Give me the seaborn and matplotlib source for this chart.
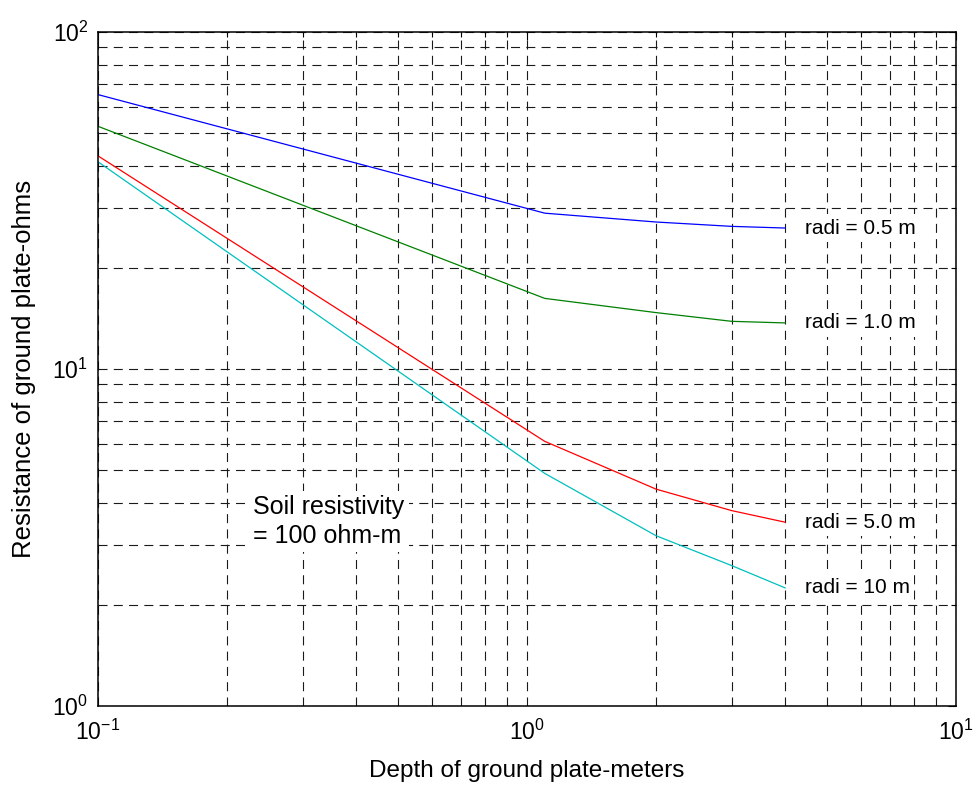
import numpy as np
import pandas as pd
import matplotlib
matplotlib.use("Agg")
import matplotlib.pyplot as plt
import seaborn as sns
from matplotlib.ticker import LogLocator, NullFormatter, LogFormatterMathtext

# Plate depth (m) and ground resistance (ohm) for each plate radius
depth = [0.1, 1.1, 2.0, 3.0, 4.0]
res_r05 = [65.2, 29.0, 27.3, 26.5, 26.2]
res_r10 = [52.5, 16.2, 14.7, 13.85, 13.7]
res_r50 = [42.9, 6.10, 4.40, 3.80, 3.51]
res_r100 = [41.2, 4.90, 3.20, 2.61, 2.24]
radius_labels = ["radi = 0.5 m", "radi = 1.0 m", "radi = 5.0 m", "radi = 10 m"]
line_colors = ["#0000ff", "#008000", "#ff0000", "#00bfbf"]

series = [res_r05, res_r10, res_r50, res_r100]
df = pd.concat(
    [pd.DataFrame({"depth": depth, "resistance": vals, "radius": lab})
     for vals, lab in zip(series, radius_labels)],
    ignore_index=True,
)

sns.set_theme(style="white")
plt.rcParams["font.family"] = ["Liberation Sans", "DejaVu Sans"]
plt.rcParams["mathtext.fontset"] = "custom"
plt.rcParams["mathtext.rm"] = "Liberation Sans"
plt.rcParams["mathtext.it"] = "Liberation Sans"
plt.rcParams["lines.scale_dashes"] = False
for key in ("text.color", "axes.labelcolor", "xtick.color", "ytick.color"):
    plt.rcParams[key] = "black"

fig = plt.figure(figsize=(9.76, 7.90), dpi=100)
ax = fig.add_axes([98 / 976, 1 - 706 / 790, (956 - 98) / 976, (706 - 32) / 790])

sns.lineplot(
    data=df, x="depth", y="resistance", hue="radius",
    palette=dict(zip(radius_labels, line_colors)),
    estimator=None, sort=False, legend=False, linewidth=0.9, ax=ax,
)

ax.set_xscale("log")
ax.set_yscale("log")
ax.set_xlim(0.1, 10)
ax.set_ylim(1, 100)

# log decades with minor ticks at 2..9
for axis in (ax.xaxis, ax.yaxis):
    axis.set_major_locator(LogLocator(base=10, numticks=10))
    axis.set_minor_locator(LogLocator(base=10, subs=np.arange(2, 10), numticks=20))
    axis.set_minor_formatter(NullFormatter())
    axis.set_major_formatter(LogFormatterMathtext())

dash = (0, (6.5, 4.5))
ax.grid(True, which="both", color="0.1", linestyle=dash, linewidth=0.8)
ax.set_axisbelow(True)

ax.tick_params(which="both", direction="in", top=True, right=True,
               labelsize=16.5, color="black", labelcolor="black")
ax.tick_params(which="major", length=6, width=0.8)
ax.tick_params(which="minor", length=3.5, width=0.8)
ax.tick_params(axis="y", pad=7)
ax.tick_params(axis="x", pad=10)

for sp in ax.spines.values():
    sp.set_visible(True)
    sp.set_color("black")
    sp.set_linewidth(1.1)

ax.set_xlabel("Depth of ground plate-meters", fontsize=17.5, labelpad=11)
ax.set_ylabel("Resistance of ground plate-ohms", fontsize=18.5, labelpad=12)

box = dict(facecolor="white", edgecolor="none", pad=3)

# Series labels at the right-hand end of each curve
for vals, lab in zip(series, radius_labels):
    ax.text(4.45, vals[-1], lab, fontsize=15, ha="left", va="center",
            bbox=box, zorder=3)

ax.text(0.23, 3.53, "Soil resistivity\n= 100 ohm-m", fontsize=18,
        ha="left", va="center", linespacing=1.25, bbox=box, zorder=3)

fig.savefig("out.png", dpi=100)
